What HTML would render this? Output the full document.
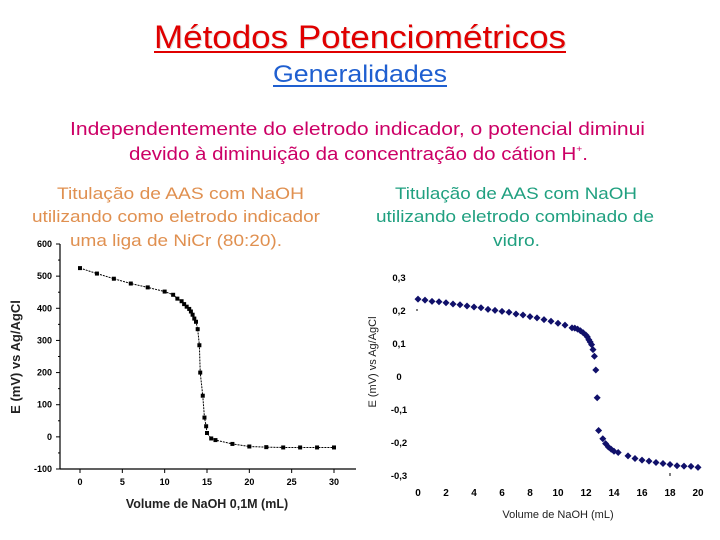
<!DOCTYPE html>
<html><head><meta charset="utf-8"><style>
html,body{margin:0;padding:0;background:#fff;}
svg{display:block;font-family:"Liberation Sans",sans-serif;}
</style></head><body>
<svg id="page" width="720" height="540" viewBox="0 0 720 540" xmlns="http://www.w3.org/2000/svg">
<rect width="720" height="540" fill="#fff"/>
<g>
<text x="361" y="49" font-size="32" fill="#999" text-anchor="middle" textLength="412" lengthAdjust="spacingAndGlyphs" opacity="0.35">Métodos Potenciométricos</text>
<text x="360" y="48" font-size="32" fill="#e00000" text-anchor="middle" textLength="412" lengthAdjust="spacingAndGlyphs">Métodos Potenciométricos</text>
<rect x="154" y="51" width="412" height="2" fill="#e00000"/>
</g>
<g>
<text x="360" y="82" font-size="24" fill="#1f5fd0" text-anchor="middle" textLength="174" lengthAdjust="spacingAndGlyphs">Generalidades</text>
<rect x="273" y="85" width="174" height="2" fill="#1f5fd0"/>
</g>
<g font-size="18" fill="#cc0066">
<text x="70" y="135" textLength="575" lengthAdjust="spacingAndGlyphs">Independentemente do eletrodo indicador, o potencial diminui</text>
<text x="129" y="160" textLength="459" lengthAdjust="spacingAndGlyphs">devido à diminuição da concentração do cátion H<tspan font-size="9" dy="-8">+</tspan><tspan dy="8">.</tspan></text>
</g>
<g font-size="17" fill="#e09050">
<text x="57" y="199" textLength="247" lengthAdjust="spacingAndGlyphs">Titulação de AAS com NaOH</text>
<text x="32" y="222" textLength="288" lengthAdjust="spacingAndGlyphs">utilizando como eletrodo indicador</text>
<text x="70" y="246" textLength="212" lengthAdjust="spacingAndGlyphs">uma liga de NiCr (80:20).</text>
</g>
<g font-size="17" fill="#20a080">
<text x="395" y="199" textLength="242" lengthAdjust="spacingAndGlyphs">Titulação de AAS com NaOH</text>
<text x="376" y="222" textLength="278" lengthAdjust="spacingAndGlyphs">utilizando eletrodo combinado de</text>
<text x="493" y="246" textLength="47" lengthAdjust="spacingAndGlyphs">vidro.</text>
</g>
<g id="left-chart"></g>
<g id="right-chart"></g>
</svg>
<script>
const leftX = [0,2,4,6,8,10,11,11.5,12,12.3,12.6,12.9,13.1,13.3,13.5,13.7,13.9,14.1,14.2,14.5,14.7,14.9,15,15.5,16,18,20,22,24,26,28,30];
const leftY = [525,508,492,477,465,452,442,430,422,413,405,398,390,380,368,358,335,285,200,128,60,33,12,-5,-10,-22,-30,-32,-33,-33,-33,-33];
const leftXTicks = [0,5,10,15,20,25,30];
const leftYTicks = [-100,0,100,200,300,400,500,600];
const rightX = [0,0.5,1,1.5,2,2.5,3,3.5,4,4.5,5,5.5,6,6.5,7,7.5,8,8.5,9,9.5,10,10.5,11,11.2,11.4,11.6,11.8,12,12.1,12.2,12.3,12.4,12.5,12.6,12.7,12.8,12.9,13.2,13.4,13.6,13.8,14,14.3,15,15.5,16,16.5,17,17.5,18,18.5,19,19.5,20];
const rightY = [0.233,0.23,0.226,0.225,0.222,0.218,0.216,0.212,0.209,0.207,0.202,0.199,0.196,0.193,0.188,0.185,0.18,0.176,0.171,0.166,0.16,0.154,0.146,0.145,0.142,0.137,0.131,0.124,0.118,0.11,0.103,0.095,0.08,0.06,0.018,-0.066,-0.165,-0.19,-0.205,-0.215,-0.222,-0.228,-0.232,-0.242,-0.25,-0.255,-0.258,-0.262,-0.265,-0.268,-0.272,-0.273,-0.274,-0.277];
const rightXTicks = [0,2,4,6,8,10,12,14,16,18,20];
const rightYTicks = [-0.3,-0.2,-0.1,0,0.1,0.2,0.3];
const rightYLabels = ["-0,3","-0,2","-0,1","0","0,1","0,2","0,3"];

const NS = "http://www.w3.org/2000/svg";
function mk(parent, tag, attrs, txt){
  const e = document.createElementNS(NS, tag);
  for (const k in attrs) e.setAttribute(k, attrs[k]);
  if (txt !== undefined) e.textContent = txt;
  parent.appendChild(e);
  return e;
}
(function(){
  const g = document.getElementById('left-chart');
  const sx = v => 80 + v * (334 - 80) / 30;
  const sy = v => 469 - (v + 100) * (469 - 244) / 700;
  let e = mk(g,'line',{x1:60,y1:244,x2:60,y2:469,stroke:'#000','stroke-width':1.2});
   
  e = mk(g,'line',{x1:60,y1:469,x2:356,y2:469,stroke:'#000','stroke-width':1.2});
   
  leftYTicks.forEach(t=>{
    mk(g,'line',{x1:56,y1:sy(t),x2:60,y2:sy(t),stroke:'#000'});
    if (t<600) mk(g,'line',{x1:58,y1:sy(t+50),x2:60,y2:sy(t+50),stroke:'#000'});
    const l = mk(g,'text',{x:52,y:sy(t)+3,'font-size':9,'font-weight':'bold','text-anchor':'end'},String(t));
     
  });
  leftXTicks.forEach(t=>{
    mk(g,'line',{x1:sx(t),y1:469,x2:sx(t),y2:473,stroke:'#000'});
    const l = mk(g,'text',{x:sx(t),y:485,'font-size':9,'font-weight':'bold','text-anchor':'middle'},String(t));
     
  });
  let t = mk(g,'text',{x:207,y:508,'font-size':12.5,'font-weight':'bold','text-anchor':'middle',fill:'#222'},'Volume de NaOH 0,1M (mL)');
   
  t = mk(g,'text',{x:0,y:0,'font-size':13,'font-weight':'bold','text-anchor':'middle',fill:'#222',transform:'translate(20,357) rotate(-90)'},'E (mV) vs Ag/AgCl');
   
  const pts = leftX.map((x,i)=>sx(x)+','+sy(leftY[i])).join(' ');
  e = mk(g,'polyline',{points:pts,fill:'none',stroke:'#000','stroke-width':1,'stroke-dasharray':'2,1'});
   
  leftX.forEach((x,i)=>{
    const p = mk(g,'rect',{x:sx(x)-2,y:sy(leftY[i])-2,width:4,height:4,fill:'#000'});
     
  });
})();
(function(){
  const g = document.getElementById('right-chart');
  const sx = v => 418 + v * (698 - 418) / 20;
  const sy = v => 376 - v * (376 - 277) / 0.3;
  mk(g,'line',{x1:416,y1:sy(0.2),x2:418,y2:sy(0.2),stroke:'#000'});
  mk(g,'line',{x1:670,y1:473,x2:670,y2:476,stroke:'#000'});
  rightYTicks.forEach((t,i)=>{
    const l = mk(g,'text',{x:399,y:sy(t)+4,'font-size':9.5,'font-weight':'bold','text-anchor':'middle'},rightYLabels[i]);
     
  });
  rightXTicks.forEach(t=>{
    const l = mk(g,'text',{x:sx(t),y:496,'font-size':10,'font-weight':'bold','text-anchor':'middle'},String(t));
     
  });
  let t = mk(g,'text',{x:558,y:518,'font-size':11,'text-anchor':'middle',fill:'#222'},'Volume de NaOH (mL)');
   
  t = mk(g,'text',{x:0,y:0,'font-size':11,'text-anchor':'middle',fill:'#222',transform:'translate(376,362) rotate(-90)'},'E (mV) vs Ag/AgCl');
   
  rightX.forEach((x,i)=>{
    const cx = sx(x), cy = sy(rightY[i]);
    const p = mk(g,'polygon',{points:`${cx},${cy-3.5} ${cx+3.5},${cy} ${cx},${cy+3.5} ${cx-3.5},${cy}`,fill:'#10106a'});
     
  });
})();
</script>
</body></html>
